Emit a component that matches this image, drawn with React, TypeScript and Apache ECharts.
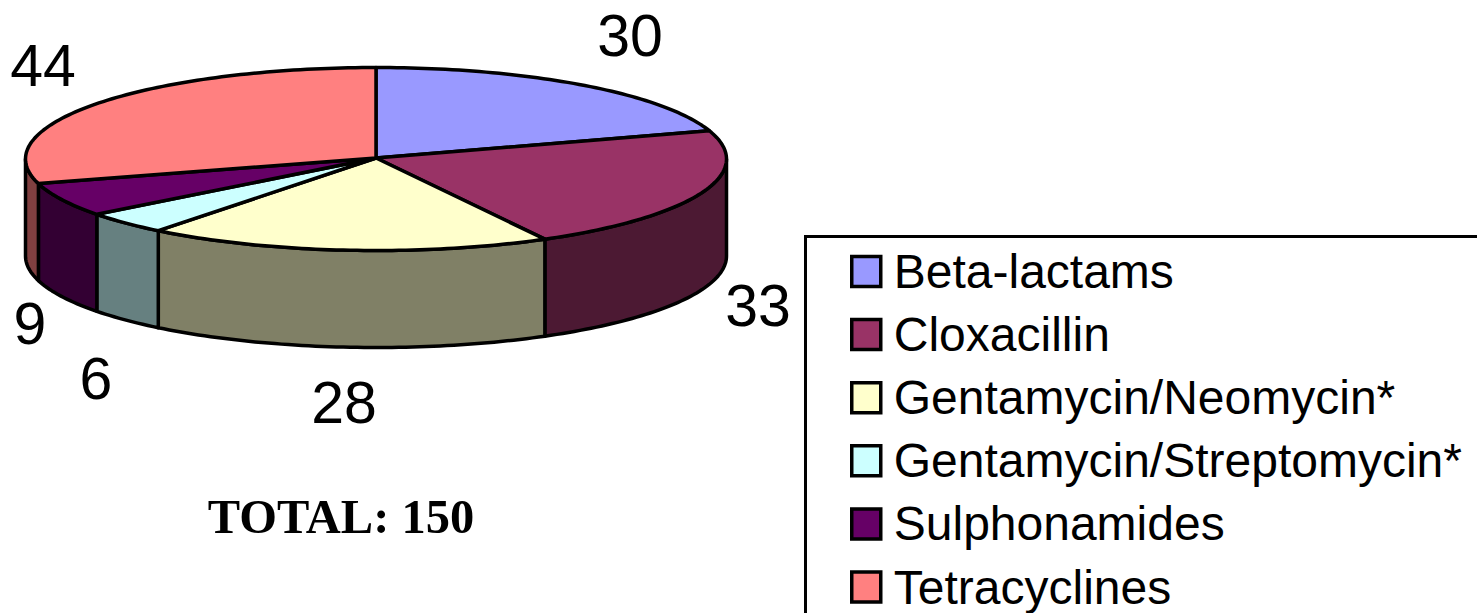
import React, { useEffect, useRef } from "react";
import * as echarts from "echarts";

const categories = ["Beta-lactams", "Cloxacillin", "Gentamycin/Neomycin*", "Gentamycin/Streptomycin*", "Sulphonamides", "Tetracyclines"];
const values = [30, 33, 28, 6, 9, 44];
const topColors = ["#9999FF", "#993366", "#FFFFCC", "#CCFFFF", "#660066", "#FF8080"];
const wallColors = ["#4C4C80", "#4C1933", "#808066", "#668080", "#330033", "#804040"];
const labelAnchors = [[630, 36], [758, 306], [344, 403], [96, 379], [30, 324], [43, 66]];

const CX = 376, CY = 159, RX = 350.5, RY = 91.5, DEPTH = 97;
const LINE = "#000";
const total = values.reduce((a, b) => a + b, 0);

function pt(angle: number, dy = 0): number[] {
  return [CX + RX * Math.sin(angle), CY - RY * Math.cos(angle) + dy];
}
function arc(a0: number, a1: number, dy = 0): number[][] {
  const n = Math.max(2, Math.ceil(Math.abs(a1 - a0) / 0.02));
  const out: number[][] = [];
  for (let i = 0; i <= n; i++) out.push(pt(a0 + ((a1 - a0) * i) / n, dy));
  return out;
}

function makeRender(index: number) {
  return (_params: any, api: any) => {
    const v = api.value(0) as number;
    const before = values.slice(0, index).reduce((a, b) => a + b, 0);
    const a0 = (before / total) * Math.PI * 2;
    const a1 = ((before + v) / total) * Math.PI * 2;
    const children: any[] = [];
    const w0 = Math.max(a0, Math.PI / 2);
    const w1 = Math.min(a1, (Math.PI * 3) / 2);
    if (w1 > w0) {
      const top = arc(w0, w1);
      const bottom = arc(w1, w0, DEPTH);
      children.push({
        type: "polygon",
        shape: { points: [...top, ...bottom] },
        style: { fill: wallColors[index], stroke: LINE, lineWidth: 3.5, lineJoin: "round" },
      });
    }
    children.push({
      type: "polygon",
      shape: { points: [[CX, CY - 1], ...arc(a0, a1)] },
      style: { fill: topColors[index], stroke: LINE, lineWidth: 3.5, lineJoin: "round" },
    });
    children.push({
      type: "text",
      x: labelAnchors[index][0],
      y: labelAnchors[index][1],
      style: {
        text: String(v),
        fill: "#000",
        font: '59px "Liberation Sans"',
        align: "center",
        verticalAlign: "middle",
      },
    });
    return { type: "group", children };
  };
}

export default function App() {
  const ref = useRef<HTMLDivElement>(null);
  useEffect(() => {
    const chart = echarts.init(ref.current!, undefined, { renderer: "svg" });
    chart.setOption({
      animation: false,
      backgroundColor: "#fff",
      legend: {
        show: true,
        orient: "vertical",
        left: 850,
        top: 247.5,
        height: 600,
        padding: 0,
        itemWidth: 29,
        itemHeight: 30,
        itemGap: 15.1,
        icon: "rect",
        selectedMode: false,
        data: categories,
        textStyle: {
          fontFamily: '"Liberation Sans"',
          fontSize: 48,
          color: "#000",
          padding: [0, 0, 0, 8],
        },
        itemStyle: { borderColor: "#000", borderWidth: 3.5 },
      },
      graphic: [
        {
          type: "rect",
          z: -1,
          shape: { x: 805.5, y: 236.5, width: 800, height: 500 },
          style: { fill: "#fff", stroke: "#000", lineWidth: 3 },
        },
        {
          type: "text",
          x: 341,
          y: 516,
          style: {
            text: "TOTAL: 150",
            font: 'bold 48.5px "Liberation Serif"',
            fill: "#000",
            align: "center",
            verticalAlign: "middle",
          },
        },
      ],
      series: categories.map((name, i) => ({
        type: "custom",
        name,
        coordinateSystem: "none",
        renderItem: makeRender(i),
        data: [[values[i]]],
        itemStyle: { color: topColors[i] },
        silent: true,
      })),
    });
    return () => chart.dispose();
  }, []);
  return <div ref={ref} style={{ position: "fixed", left: 0, top: 0, width: 1477, height: 613 }} />;
}
